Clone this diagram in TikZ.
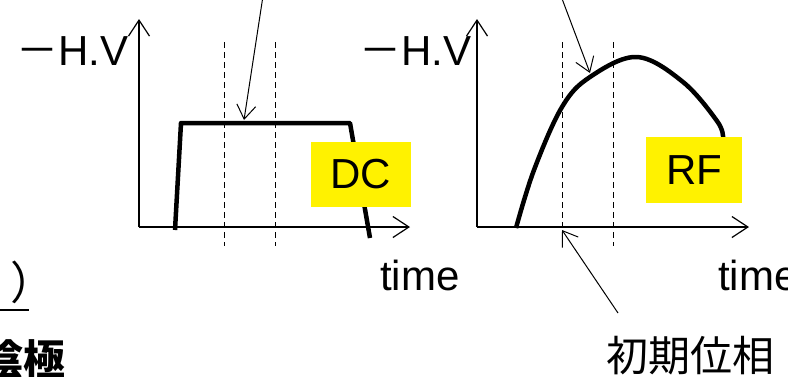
\documentclass[tikz,border=0pt]{standalone}
\usepackage{fontspec}
\setmainfont{Liberation Sans}
\newfontfamily\cjk{Noto Sans CJK JP}
\usetikzlibrary{arrows.meta}

% fullwidth minus in front of H.V
\newcommand{\hvlabel}{{\cjk －}H.V}

\begin{document}
\begin{tikzpicture}[
      x=1pt, y=-1pt,
      % Define styles for the elements
      txt/.style={
          inner sep=0pt,
          font=\fontsize{42}{42}\selectfont
        },
      tag/.style={
          txt,
          fill=yellow,
          minimum width=100pt,
          minimum height=65pt
        },
      axisline/.style={
          -{Straight Barb[length=16pt,width=21pt]},
          line width=1.2pt
        },
      arrow/.style={
          -{Straight Barb[length=14pt,width=19pt]}, % open arrow tip
          line width=1pt
        },
      guide/.style={
          dashed,
          dash pattern=on 6pt off 4pt,
          line width=1pt
        },
      signal/.style={
          line width=4.5pt,
          line join=round
        }
    ]

    \useasboundingbox (0,0) rectangle (788,376);
    \clip (0,0) rectangle (788,376);

    % Axes of the DC plot
    \coordinate (dc origin) at (139,227);
    \coordinate (dc top) at (139,19);
    \coordinate (dc right) at (410,227);
    \draw[axisline] (dc origin) -- (dc top);
    \draw[axisline] (dc origin) -- (dc right);

    % Axes of the RF plot
    \coordinate (rf origin) at (477,227);
    \coordinate (rf top) at (477,19);
    \coordinate (rf right) at (749,227);
    \draw[axisline] (rf origin) -- (rf top);
    \draw[axisline] (rf origin) -- (rf right);

    % Dashed phase window
    \foreach \x in {224,275,562,613} {
        \draw[guide] (\x,42) -- (\x,246);
      }

    % The two pulse shapes
    \draw[signal] (175,230) -- (181,123) -- (350,123) -- (370,238);
    \draw[signal] plot[smooth, tension=0.6] coordinates {
        (516,228) (534,170) (562,107) (590,77) (637,57)
        (683,82) (717,121) (723,137)
      };

    % Place the nodes
    \node[tag] (dc) at (361,174.5) {DC};
    \node[tag, minimum width=96pt, minimum height=66pt] (rf) at (694,170) {RF};

    \node[txt, anchor=base west] (dc hv) at (16,65) {\hvlabel};
    \node[txt, anchor=base west] (rf hv) at (359,65) {\hvlabel};
    \node[txt, anchor=base west] (dc time) at (380,290) {time};
    \node[txt, anchor=base west] (rf time) at (718,290) {time};

    \node[txt, anchor=base] (phase) at (690,371) {\cjk 初期位相};

    \node[txt, anchor=base west, font=\fontsize{45}{45}\selectfont] (paren) at (10,299) {\cjk ）};
    \node[txt, anchor=base east] (cathode) at (66,375) {\cjk\bfseries 陰極};
    \coordinate (rule start) at (0,310);
    \coordinate (rule end) at (29,310);
    \draw[line width=1.2pt] (rule start) -- (rule end);

    % Draw the arrows connecting the nodes
    \coordinate (dc start) at (263,-4);
    \coordinate (dc flat) at (244,120);
    \coordinate (rf start) at (561,-4);
    \coordinate (rf slope) at (590,73);
    \coordinate (phase start) at (618,313);
    \coordinate (phase tip) at (562,230);
    \draw[arrow] (dc start) -- (dc flat);
    \draw[arrow] (rf start) -- (rf slope);
    \draw[arrow] (phase start) -- (phase tip);

  \end{tikzpicture}
\end{document}
